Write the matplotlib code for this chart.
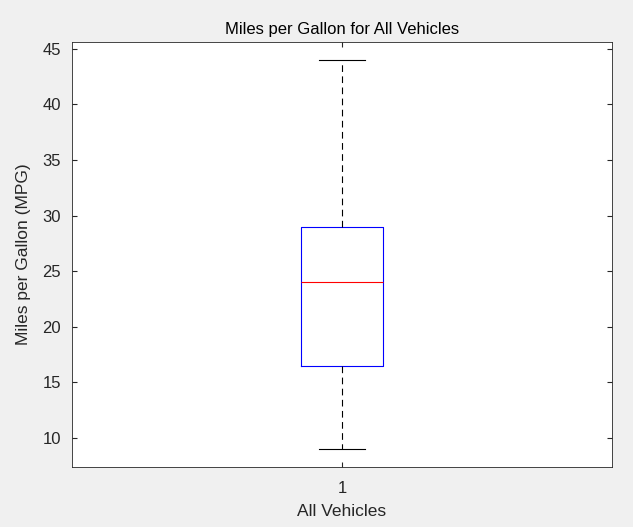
import matplotlib
matplotlib.use("Agg")
import matplotlib.pyplot as plt

plt.rcParams['font.family'] = ['Liberation Sans', 'DejaVu Sans']

labels = ['1']
whislo = [9]
q1 = [16.5]
med = [24]
q3 = [29]
whishi = [44]

stats = [dict(label=l, whislo=a, q1=b, med=c, q3=d, whishi=e, fliers=[])
         for l, a, b, c, d, e in zip(labels, whislo, q1, med, q3, whishi)]

fig = plt.figure(figsize=(6.33, 5.27), dpi=100, facecolor='#f0f0f0')
ax = fig.add_axes([72/633, 1-467/527, 540/633, 425/527])
ax.bxp(stats, positions=[1], widths=0.152,
       boxprops=dict(color='blue', linewidth=0.8),
       medianprops=dict(color='red', linewidth=0.8),
       whiskerprops=dict(color='black', linestyle=(0, (6, 4)), linewidth=0.8),
       capprops=dict(color='black', linewidth=0.8),
       capwidths=0.087, showfliers=False)
ax.set_xlim(0.5, 1.5)
ax.set_ylim(7.4, 45.6)
ax.set_yticks([10, 15, 20, 25, 30, 35, 40, 45])
ax.tick_params(direction='in', top=True, right=True, labelsize=12, color='#262626', labelcolor='#262626')
ax.tick_params(axis='x', pad=10)
ax.tick_params(axis='y', pad=8)
for s in ax.spines.values():
    s.set_color('#262626'); s.set_linewidth(0.6)
ax.set_title('Miles per Gallon for All Vehicles', fontsize=12, color='black')
ax.set_xlabel('All Vehicles', fontsize=12.5, color='#262626', labelpad=6)
ax.set_ylabel('Miles per Gallon (MPG)', fontsize=12.5, color='#262626', labelpad=8)
fig.savefig('out.png', dpi=100, facecolor=fig.get_facecolor())
